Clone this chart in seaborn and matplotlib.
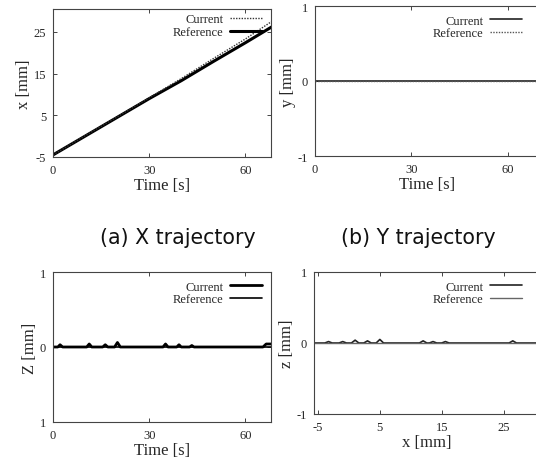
import matplotlib
matplotlib.use("Agg")
import matplotlib.pyplot as plt
import seaborn as sns
import pandas as pd
import numpy as np

# ---- data ----
t_xy = [0, 10, 20, 30, 40, 50, 60, 68, 70]
x_current = [-4.5, 0.1, 4.6, 9.2, 13.8, 18.6, 23.3, 27.4, 28.3]
x_reference = [-4.5, 0.0, 4.5, 9.0, 13.3, 17.9, 22.4, 26.1, 27.0]
y_current = [0, 0, 0, 0, 0, 0, 0, 0, 0]
y_reference = [0, 0, 0, 0, 0, 0, 0, 0, 0]

t_z = [0, 1.5, 2.2, 3.0, 10.5, 11.3, 12.1, 15.5, 16.3, 17.1, 19.2, 20.1, 21.0,
       34.3, 35.1, 35.9, 38.6, 39.3, 40.0, 42.6, 43.3, 44.0, 65.5, 66.5, 68]
z_current = [0, 0, 0.03, 0, 0, 0.04, 0, 0, 0.03, 0, 0, 0.06, 0,
             0, 0.04, 0, 0, 0.03, 0, 0, 0.02, 0, 0, 0.04, 0.04]
z_reference = [0] * len(t_z)

x_path = [-5.6, -3.9, -3.3, -2.7, -1.6, -1.0, -0.4, 0.4, 1.0, 1.6, 2.4, 3.0, 3.6,
          4.4, 5.0, 5.6, 11.4, 12.0, 12.6, 13.0, 13.6, 14.2, 15.0, 15.6, 16.2,
          25.9, 26.5, 27.1, 30.7]
z_path = [0, 0, 0.02, 0, 0, 0.02, 0, 0, 0.04, 0, 0, 0.03, 0,
          0, 0.05, 0, 0, 0.03, 0, 0, 0.02, 0, 0, 0.02, 0,
          0, 0.03, 0, 0]
z_path_ref = [0] * len(x_path)

captions = ["(a) X trajectory", "(b) Y trajectory"]

sns.set_style("ticks")
plt.rcParams["font.family"] = ["Liberation Serif", "DejaVu Serif"]
plt.rcParams["axes.linewidth"] = 0.8
plt.rcParams["axes.unicode_minus"] = False

fig = plt.figure(figsize=(5.36, 4.64), dpi=100)
W, H = 536.0, 464.0


def make_ax(left, top, right, bottom):
    return fig.add_axes([left / W, 1 - bottom / H, (right - left) / W, (bottom - top) / H])


def style(ax, xlabel, ylabel, bbox, reverse=False):
    ax.set_xlabel(xlabel, fontsize=12, labelpad=1)
    ax.set_ylabel(ylabel, fontsize=12, labelpad=1)
    ax.tick_params(direction="in", top=True, right=True, length=3, width=0.6,
                   labelsize=9, pad=5)
    for s in ax.spines.values():
        s.set_color("#444444")
    hh, ll = ax.get_legend_handles_labels()
    if reverse:
        hh, ll = hh[::-1], ll[::-1]
    ax.legend(hh, ll, loc="upper right", bbox_to_anchor=bbox, frameon=False,
              markerfirst=False, fontsize=9, handlelength=2.6,
              labelspacing=0.05, handletextpad=0.5, borderpad=0.2)


# (a) x vs time
ax1 = make_ax(53, 10, 271, 158)
df1 = pd.DataFrame({"t": t_xy, "cur": x_current, "ref": x_reference})
sns.lineplot(data=df1, x="t", y="ref", ax=ax1, color="black", lw=2.2, label="Reference")
sns.lineplot(data=df1, x="t", y="cur", ax=ax1, color="#333333", lw=1.0, ls=(0, (1, 1)), label="Current")
ax1.set_xlim(0, 68)
ax1.set_ylim(-5, 30.5)
ax1.set_xticks([0, 30, 60])
ax1.set_yticks([-5, 5, 15, 25])
style(ax1, "Time [s]", "x [mm]", (1.0, 1.03), reverse=True)

# (b) y vs time
ax2 = make_ax(315, 7, 540, 157)
df2 = pd.DataFrame({"t": t_xy, "cur": y_current, "ref": y_reference})
sns.lineplot(data=df2, x="t", y="cur", ax=ax2, color="#222222", lw=1.2, label="Current")
sns.lineplot(data=df2, x="t", y="ref", ax=ax2, color="#555555", lw=1.0, ls=(0, (1, 1)), label="Reference")
ax2.set_xlim(0, 70)
ax2.set_ylim(-1, 1)
ax2.set_xticks([0, 30, 60])
ax2.set_yticks([-1, 0, 1])
style(ax2, "Time [s]", "y [mm]", (0.96, 1.0))

# (c) z vs time
ax3 = make_ax(53, 273, 271, 423)
df3 = pd.DataFrame({"t": t_z, "cur": z_current, "ref": z_reference})
sns.lineplot(data=df3, x="t", y="cur", ax=ax3, color="black", lw=2.0, label="Current")
sns.lineplot(data=df3, x="t", y="ref", ax=ax3, color="black", lw=1.2, label="Reference")
ax3.set_xlim(0, 68)
ax3.set_ylim(-1, 1)
ax3.set_xticks([0, 30, 60])
ax3.set_yticks([-1, 0, 1])
ax3.set_yticklabels(["1", "0", "1"])
style(ax3, "Time [s]", "Z [mm]", (1.0, 1.0))

# (d) z vs x
ax4 = make_ax(314, 273, 540, 415)
df4 = pd.DataFrame({"x": x_path, "cur": z_path, "ref": z_path_ref})
sns.lineplot(data=df4, x="x", y="cur", ax=ax4, color="#222222", lw=1.2, label="Current", sort=False)
sns.lineplot(data=df4, x="x", y="ref", ax=ax4, color="#666666", lw=1.0, label="Reference", sort=False)
ax4.set_xlim(-5.65, 30.9)
ax4.set_ylim(-1, 1)
ax4.set_xticks([-5, 5, 15, 25])
ax4.set_yticks([-1, 0, 1])
style(ax4, "x [mm]", "z [mm]", (0.96, 1.0))

for cx, txt in zip([178, 418], captions):
    fig.text(cx / W, 1 - 238 / H, txt, ha="center", va="center", fontsize=14.8,
             family=["DejaVu Sans"], color="#111111")

fig.savefig("out.png", dpi=100)
